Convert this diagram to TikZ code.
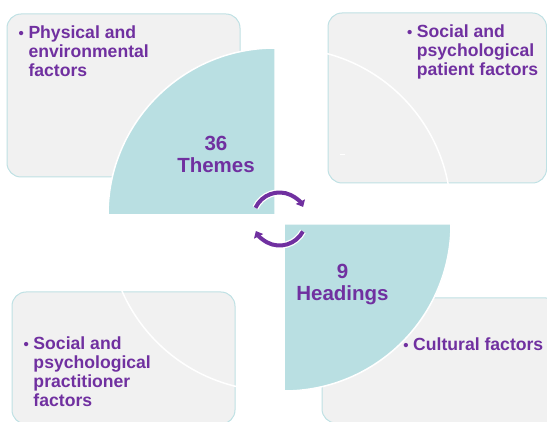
\documentclass[tikz,border=0pt]{standalone}
\usepackage{fontspec}
\setmainfont{Liberation Sans}
\usetikzlibrary{arrows.meta}
\definecolor{ppl}{HTML}{7030A0}
\definecolor{tealq}{HTML}{B9DFE2}
\definecolor{boxfill}{HTML}{F1F1F1}
\definecolor{boxline}{HTML}{BFE1E4}
\newcommand\itembullet{\llap{{\fontsize{15}{15}\selectfont\textbullet}\hspace{4.5pt}}}
\begin{document}
\begin{tikzpicture}[x=1pt,y=1pt,
 factorbox/.style={draw=boxline, fill=boxfill, line width=1pt, rounded corners=14pt},
 pie/.style={fill=tealq, draw=white, line width=1.5pt},
 ring/.style={draw=white, line width=1.5pt},
 itemtext/.style={anchor=base west, inner sep=0pt, align=left, text=ppl, font=\fontsize{17.6}{19}\selectfont\bfseries},
 centertext/.style={anchor=base, inner sep=0pt, align=center, text=ppl, font=\fontsize{20.5}{22}\selectfont\bfseries},
 cyc/.style={draw=ppl, line width=4pt, -{Triangle[length=6pt,width=10pt]}},
 halo/.style={draw=white, line width=6.5pt}]
\useasboundingbox (0,0) rectangle (547,421);
% factor boxes
\path[factorbox] (7,244) rectangle (240,407);
\path[factorbox] (328,238) rectangle (546.5,408);
\path[factorbox] (12,-3) rectangle (235,129);
\path[factorbox] (322,-2) rectangle (560,123);
% quarter circles
\coordinate (ctl) at (275,206);
\coordinate (ctr) at (284,206);
\coordinate (cbl) at (275,197);
\coordinate (cbr) at (284,197);
\path[pie] (ctl) -- ++(-167,0) arc[start angle=180, end angle=90, radius=167] -- cycle;
\path[ring] ([shift={(90:167)}]ctr) arc[start angle=90, end angle=0, radius=167];
\path[ring] ([shift={(180:167)}]cbl) arc[start angle=180, end angle=270, radius=167];
\path[pie] (cbr) -- ++(0,-167) arc[start angle=270, end angle=360, radius=167] -- cycle;
\draw[white, line width=1pt] (340,266) -- (345,266);
% cycle arrows
\coordinate (cyc) at (279.5,202);
\path[halo] ([shift={(155:26.5)}]cyc) arc[start angle=155, end angle=30, radius=26.5];
\path[halo] ([shift={(-28:26.5)}]cyc) arc[start angle=-28, end angle=-150, radius=26.5];
\path[cyc] ([shift={(155:26.5)}]cyc) arc[start angle=155, end angle=27, radius=26.5];
\path[cyc] ([shift={(-28:26.5)}]cyc) arc[start angle=-28, end angle=-153, radius=26.5];
% texts (anchored at the baseline of their last line)
\node[itemtext] (t1) at (28.3,344.7) {\itembullet Physical and\\environmental\\factors};
\node[itemtext] (t2) at (416.7,345) {\itembullet Social and\\psychological\\patient factors};
\node[itemtext] (t3) at (33.3,14.5) {\itembullet Social and\\psychological\\practitioner\\factors};
\node[itemtext] (t4) at (413,70.3) {\itembullet Cultural factors};
\node[centertext] (themes) at (216,248) {36\\Themes};
\node[centertext] (headings) at (342.5,120.7) {9\\Headings};
\end{tikzpicture}
\end{document}
